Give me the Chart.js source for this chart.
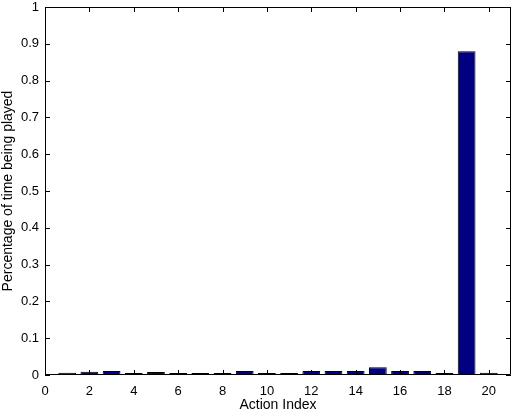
<!DOCTYPE html>
<html>
<head>
<meta charset="utf-8">
<script src="https://cdn.jsdelivr.net/npm/chart.js@4"></script>
<style>
  html, body { margin: 0; padding: 0; background: #fff; }
  #wrap { width: 512px; height: 410px; }
</style>
</head>
<body>
<div id="wrap"><canvas id="chart"></canvas></div>
<script>
// Action indices and share of time each one was played
const actionIndex = [1, 2, 3, 4, 5, 6, 7, 8, 9, 10, 11, 12, 13, 14, 15, 16, 17, 18, 19, 20];
const playShare = [0.006, 0.009, 0.011, 0.002, 0.008, 0.003, 0.002, 0.002, 0.011, 0.003,
                   0.002, 0.011, 0.011, 0.011, 0.021, 0.011, 0.011, 0.003, 0.88, 0.006];
const xTicks = [0, 2, 4, 6, 8, 10, 12, 14, 16, 18, 20];
const yTicks = [0, 0.1, 0.2, 0.3, 0.4, 0.5, 0.6, 0.7, 0.8, 0.9, 1];

const FONT = 'Liberation Sans, Arial, Helvetica, sans-serif';

// MATLAB style box with inward ticks on all four sides
const boxTicks = {
  id: 'boxTicks',
  afterDraw(chart) {
    const { ctx, chartArea: a, scales } = chart;
    const len = 5;
    ctx.save();
    ctx.strokeStyle = '#000';
    ctx.lineWidth = 1;
    ctx.beginPath();
    ctx.rect(a.left + 0.5, a.top + 0.5, a.right - a.left - 1, a.bottom - a.top - 1);
    xTicks.forEach(v => {
      const px = Math.round(scales.x.getPixelForValue(v)) + 0.5;
      ctx.moveTo(px, a.bottom); ctx.lineTo(px, a.bottom - len);
      ctx.moveTo(px, a.top); ctx.lineTo(px, a.top + len);
    });
    yTicks.forEach(v => {
      const py = Math.round(scales.y.getPixelForValue(v)) + 0.5;
      ctx.moveTo(a.left, py); ctx.lineTo(a.left + len, py);
      ctx.moveTo(a.right, py); ctx.lineTo(a.right - len, py);
    });
    ctx.stroke();
    ctx.restore();
  }
};

new Chart(document.getElementById('chart'), {
  type: 'bar',
  data: {
    datasets: [{
      data: actionIndex.map((x, i) => ({ x: x, y: playShare[i] })),
      backgroundColor: '#000080',
      borderColor: '#000',
      borderWidth: 1,
      minBarLength: 2,
      barPercentage: 0.8,
      categoryPercentage: 1.0
    }]
  },
  options: {
    responsive: true,
    maintainAspectRatio: false,
    animation: false,
    layout: { padding: { top: 7, right: 1, left: 0, bottom: 0 } },
    plugins: { legend: { display: false }, tooltip: { enabled: false } },
    scales: {
      x: {
        type: 'linear',
        min: 0,
        max: 21,
        offset: false,
        afterBuildTicks: s => { s.ticks = xTicks.map(v => ({ value: v })); },
        afterFit: s => { s.height = 35; s.paddingRight = 0; },
        grid: { display: false, drawTicks: false },
        border: { display: false },
        ticks: { color: '#000', font: { family: FONT, size: 13 }, padding: 9, maxRotation: 0 },
        title: { display: true, text: 'Action Index', color: '#000', font: { family: FONT, size: 14 }, padding: { top: 0, bottom: -4 } }
      },
      y: {
        min: 0,
        max: 1,
        afterBuildTicks: s => { s.ticks = yTicks.map(v => ({ value: v })); },
        afterFit: s => { s.width = 45; s.paddingTop = 0; s.paddingBottom = 0; },
        grid: { display: false, drawTicks: false },
        border: { display: false },
        ticks: { color: '#000', font: { family: FONT, size: 13 }, padding: 6, callback: v => String(v) },
        title: { display: true, text: 'Percentage of time being played', color: '#000', font: { family: FONT, size: 14 }, padding: { top: 0, bottom: 0 } }
      }
    }
  },
  plugins: [boxTicks]
});
</script>
</body>
</html>
